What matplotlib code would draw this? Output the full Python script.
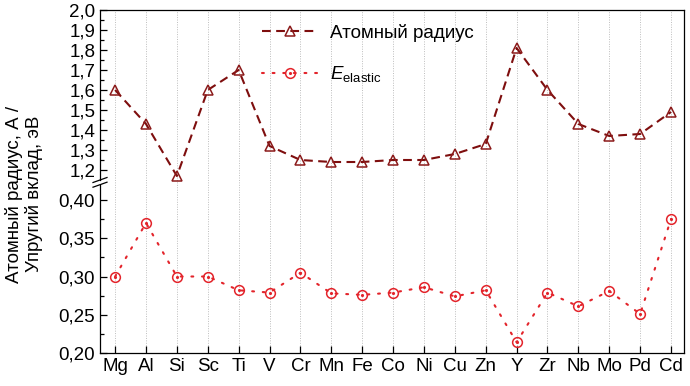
import numpy as np
import matplotlib
matplotlib.use("Agg")
import matplotlib.pyplot as plt
from matplotlib.legend_handler import HandlerTuple

plt.rcParams['font.family'] = ['Liberation Sans', 'DejaVu Sans']
plt.rcParams['mathtext.fontset'] = 'custom'
plt.rcParams['mathtext.rm'] = 'Liberation Sans'
plt.rcParams['mathtext.it'] = 'Liberation Sans:italic'

elements = ['Mg', 'Al', 'Si', 'Sc', 'Ti', 'V', 'Cr', 'Mn', 'Fe', 'Co', 'Ni',
            'Cu', 'Zn', 'Y', 'Zr', 'Nb', 'Mo', 'Pd', 'Cd']
atomic_radius = [1.60, 1.43, 1.17, 1.60, 1.70, 1.32, 1.25, 1.24, 1.24, 1.25, 1.25,
                 1.28, 1.33, 1.81, 1.60, 1.43, 1.37, 1.38, 1.49]
e_elastic = [0.300, 0.370, 0.300, 0.300, 0.282, 0.279, 0.305, 0.278, 0.276, 0.279,
             0.286, 0.274, 0.282, 0.214, 0.279, 0.261, 0.281, 0.251, 0.375]

lower_ticks = [0.20, 0.25, 0.30, 0.35, 0.40]
upper_ticks = [1.2, 1.3, 1.4, 1.5, 1.6, 1.7, 1.8, 1.9, 2.0]
lower_minor = [0.225, 0.275, 0.325, 0.375]
upper_minor = [1.25, 1.35, 1.45, 1.55, 1.65, 1.75, 1.85, 1.95]

# piecewise (broken) axis scale
vp = np.array([-100.0, 0.20, 0.42, 1.15, 2.0, 100.0])
tp = np.array([(-100.0 - 0.2) * 765.0, 0.0, 0.22 * 765.0, 173.0, 343.0, 343.0 + 98.0 * 200.0])

def fwd(v):
    return np.interp(v, vp, tp)

def inv(t):
    return np.interp(t, tp, vp)

fig = plt.figure(figsize=(6.9, 3.86), dpi=100)
L, R, B, T = 100, 684, 353, 10
W, H = 690, 386
ax = fig.add_axes([L / W, (H - B) / H, (R - L) / W, (B - T) / H])
ax.set_yscale('function', functions=(fwd, inv))

x = np.arange(len(elements))
dark = '#7E0E0E'
red = '#E3242B'
FS = 13.5

l1, = ax.plot(x, atomic_radius, color=dark, lw=1.5, dashes=(4.2, 2.6),
              marker='^', ms=7.5, mfc='none', mec='#8B1A1A', mew=1.1,
              label='Атомный радиус', zorder=3)
l2, = ax.plot(x, e_elastic, color=red, lw=1.5, dashes=(0.9, 4.2),
              dash_capstyle='round',
              marker='o', ms=7, mfc='none', mec=red, mew=1.1, zorder=3)
l3, = ax.plot(x, e_elastic, ls='none', marker='.', ms=2.5, color=red, zorder=3)

ax.set_xlim(-0.49, 18.42)
ax.set_ylim(0.20, 2.0)
ax.set_xticks(x)
ax.set_xticklabels(elements, fontsize=FS)
ax.set_yticks(lower_ticks + upper_ticks)
ax.set_yticklabels([f'{v:.2f}'.replace('.', ',') for v in lower_ticks] +
                   [f'{v:.1f}'.replace('.', ',') for v in upper_ticks], fontsize=FS)
ax.set_yticks(lower_minor + upper_minor, minor=True)

ax.tick_params(axis='both', which='major', direction='in', length=5, width=0.9,
               top=False, right=False, pad=3.5)
ax.tick_params(axis='y', which='minor', direction='in', length=3, width=0.9,
               right=False)
ax.tick_params(axis='x', which='minor', bottom=False, top=False)

ax.grid(axis='x', which='major', color='#BDBDBD', lw=0.7, ls=(0, (1, 1.5)))
ax.set_axisbelow(True)

for s in ['top', 'right', 'bottom']:
    ax.spines[s].set_linewidth(0.9)
ax.spines['left'].set_visible(False)

# left spine with break
tot = 343.0
y_low_top = fwd(0.42) / tot
y_up_bot = fwd(1.15) / tot
kw = dict(transform=ax.transAxes, color='black', lw=0.9, clip_on=False, zorder=5)
ax.plot([0, 0], [0, y_low_top], **kw)
ax.plot([0, 0], [y_up_bot, 1], **kw)
dx = 7.0 / (R - L)
dy = 2.5 / tot
for yc in (y_low_top, y_up_bot):
    ax.plot([-dx, dx], [yc - dy, yc + dy], **kw)

leg = ax.legend([l1, (l2, l3)], ['Атомный радиус', r'$E_{\mathregular{elastic}}$'],
                handler_map={tuple: HandlerTuple(ndivide=1)},
                loc='upper left', bbox_to_anchor=((262 - L) / (R - L), 1 - 14 / tot),
                frameon=False, fontsize=FS, handlelength=3.0, handletextpad=0.6,
                labelspacing=1.2, numpoints=1, borderaxespad=0, borderpad=0)

fig.text(24 / W, (H - 194) / H, 'Атомный радиус, А /\nУпругий вклад, эВ',
         rotation=90, ha='center', va='center', multialignment='center',
         fontsize=FS, linespacing=1.1)

fig.savefig('out.png', dpi=100)
